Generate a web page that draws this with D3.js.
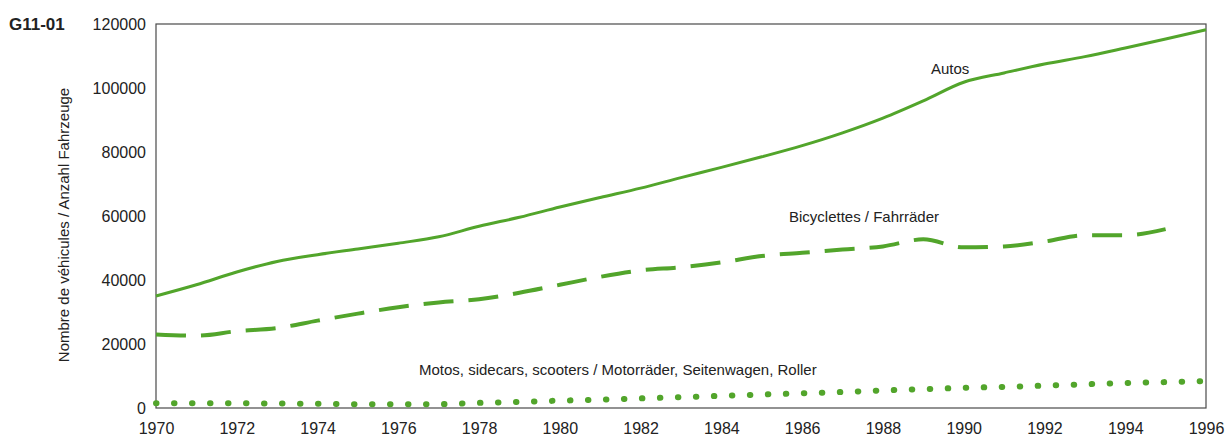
<!DOCTYPE html>
<html>
<head>
<meta charset="utf-8">
<script src="https://cdn.jsdelivr.net/npm/d3@7"></script>
<style>
  body { margin: 0; background: #fff; }
  text { font-family: "Liberation Sans", Arial, sans-serif; fill: #222; }
</style>
</head>
<body>
<div id="chart"></div>
<script>
var years = d3.range(1970, 1997);
var autos = [35000, 38500, 42500, 45800, 47900, 49700, 51500, 53500, 56800, 59600,
  62800, 65800, 68700, 72000, 75200, 78500, 82000, 86000, 90600, 96000,
  101800, 104700, 107500, 109800, 112500, 115300, 118200];
var bicycles = [23000, 22600, 24000, 25000, 27300, 29500, 31500, 33000, 34000, 36000,
  38500, 41000, 43000, 44000, 45500, 47500, 48500, 49500, 50500, 52700,
  50200, 50500, 52000, 54000, 54000, 55900];
var motos = [1500, 1500, 1500, 1400, 1300, 1200, 1200, 1200, 1600, 1900,
  2300, 2600, 3000, 3400, 3800, 4200, 4600, 5000, 5500, 5900,
  6300, 6600, 7000, 7400, 7800, 8100, 8400];
var yTicks = [0, 20000, 40000, 60000, 80000, 100000, 120000];
var xTicks = d3.range(1970, 1997, 2);

var width = 1226, height = 442;
var green = "#52a52b";

var svg = d3.select("#chart").append("svg")
  .attr("width", width)
  .attr("height", height);

var x = d3.scaleLinear().domain([1970, 1996]).range([156, 1206]);
var y = d3.scaleLinear().domain([0, 120000]).range([408, 24]);

// frame
svg.append("rect")
  .attr("x", x(1970)).attr("y", y(120000))
  .attr("width", x(1996) - x(1970))
  .attr("height", y(0) - y(120000))
  .attr("fill", "none")
  .attr("stroke", "#4a4a4a")
  .attr("stroke-width", 1.2);

var yAxis = svg.append("g")
  .attr("transform", "translate(" + x(1970) + ",0)")
  .call(d3.axisLeft(y).tickValues(yTicks).tickSize(0).tickPadding(10).tickFormat(d3.format("d")));
yAxis.select(".domain").remove();
yAxis.selectAll("text").style("font-size", "16px").style("font-family", null);

var xAxis = svg.append("g")
  .attr("transform", "translate(0," + y(0) + ")")
  .call(d3.axisBottom(x).tickValues(xTicks).tickSize(0).tickPadding(15).tickFormat(d3.format("d")));
xAxis.select(".domain").remove();
xAxis.selectAll("text").style("font-size", "16px").style("font-family", null);

svg.append("text")
  .attr("x", 9).attr("y", 30)
  .style("font-size", "17px").style("font-weight", "bold")
  .text("G11-01");

svg.append("text")
  .attr("transform", "translate(69,225) rotate(-90)")
  .attr("text-anchor", "middle")
  .style("font-size", "15px")
  .text("Nombre de véhicules / Anzahl Fahrzeuge");

var line = d3.line()
  .x(function(d, i) { return x(years[i]); })
  .y(function(d) { return y(d); })
  .curve(d3.curveMonotoneX);

svg.append("path").datum(autos)
  .attr("d", line)
  .attr("fill", "none")
  .attr("stroke", green)
  .attr("stroke-width", 3);

svg.append("path").datum(bicycles)
  .attr("d", line)
  .attr("fill", "none")
  .attr("stroke", green)
  .attr("stroke-width", 4)
  .attr("stroke-dasharray", "30,15");

svg.append("path").datum(motos)
  .attr("d", line)
  .attr("fill", "none")
  .attr("stroke", green)
  .attr("stroke-width", 6)
  .attr("stroke-linecap", "round")
  .attr("stroke-dasharray", "0.5,17.5");

svg.append("text").attr("x", 931).attr("y", 74)
  .style("font-size", "15px").text("Autos");
svg.append("text").attr("x", 789).attr("y", 222)
  .style("font-size", "15px").text("Bicyclettes / Fahrräder");
svg.append("text").attr("x", 419).attr("y", 375)
  .style("font-size", "15px").text("Motos, sidecars, scooters / Motorräder, Seitenwagen, Roller");
</script>
</body>
</html>
